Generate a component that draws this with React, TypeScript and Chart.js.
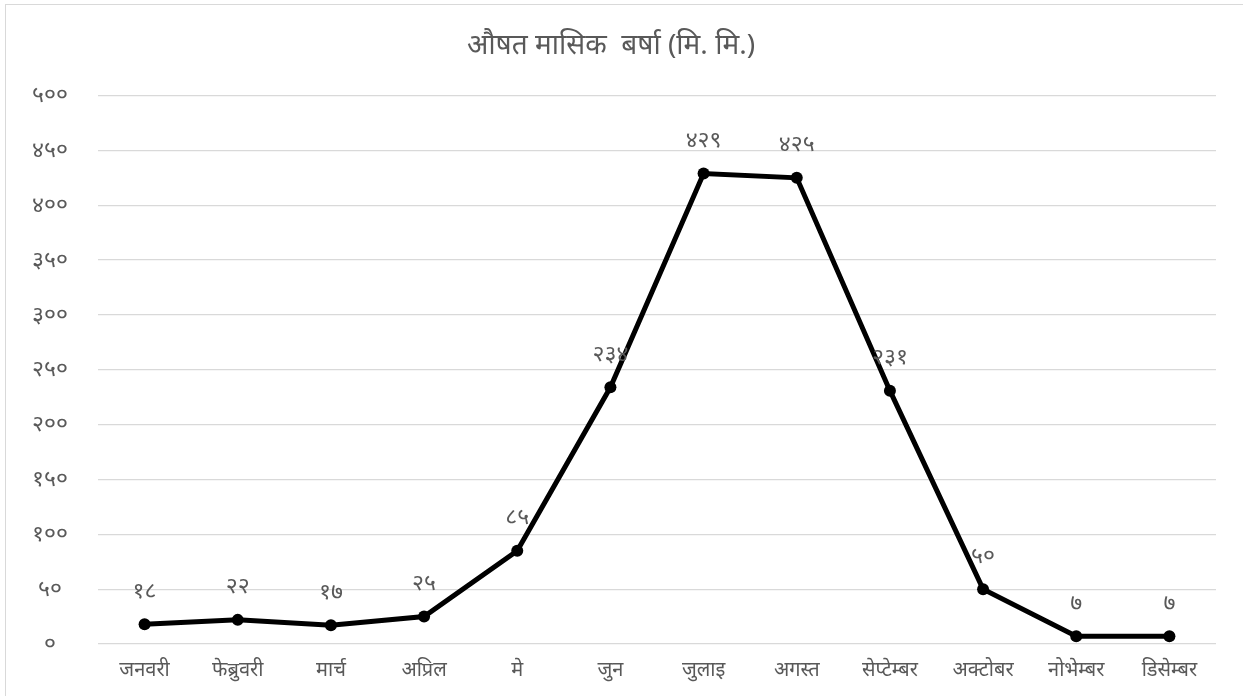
import { useEffect, useRef } from 'react'
import Chart from 'chart.js/auto'

const months = ['जनवरी', 'फेब्रुवरी', 'मार्च', 'अप्रिल', 'मे', 'जुन', 'जुलाइ', 'अगस्त', 'सेप्टेम्बर', 'अक्टोबर', 'नोभेम्बर', 'डिसेम्बर']
const rainfall = [18, 22, 17, 25, 85, 234, 429, 425, 231, 50, 7, 7]
const title = 'औषत मासिक  बर्षा (मि. मि.)'

const DIGITS = '०१२३४५६७८९'
const dev = (n: number | string) => String(n).replace(/\d/g, (d) => DIGITS[Number(d)])

const FONT = '"Noto Sans", sans-serif'
const GREY = '#595959'

const pointLabels = {
  id: 'pointLabels',
  afterDatasetsDraw(chart: Chart) {
    const { ctx } = chart
    const meta = chart.getDatasetMeta(0)
    ctx.save()
    ctx.font = '23px ' + FONT
    ctx.fillStyle = GREY
    ctx.textAlign = 'center'
    ctx.textBaseline = 'middle'
    meta.data.forEach((p, i) => {
      ctx.fillText(dev(rainfall[i]), p.x, p.y - 33)
    })
    ctx.restore()
  },
}

export default function App() {
  const ref = useRef<HTMLCanvasElement>(null)

  useEffect(() => {
    if (!ref.current) return
    const chart = new Chart(ref.current, {
      type: 'line',
      data: {
        labels: months,
        datasets: [
          {
            data: rainfall,
            borderColor: '#000000',
            backgroundColor: '#000000',
            borderWidth: 5,
            pointRadius: 6,
            pointBackgroundColor: '#000000',
            pointBorderWidth: 0,
            tension: 0,
            fill: false,
          },
        ],
      },
      options: {
        responsive: true,
        maintainAspectRatio: false,
        animation: false,
        layout: { padding: { left: 0, right: 28, top: 0, bottom: 9 } },
        plugins: {
          legend: { display: false },
          tooltip: { enabled: false },
          title: {
            display: true,
            text: title,
            color: GREY,
            font: { family: FONT, size: 28, weight: 'normal' },
            padding: { top: 24, bottom: 33 },
          },
        },
        scales: {
          x: {
            offset: true,
            grid: { display: false },
            border: { display: false },
            ticks: { color: GREY, font: { family: FONT, size: 20 }, padding: 6, maxRotation: 0 },
          },
          y: {
            min: 0,
            max: 500,
            afterFit: (s) => { s.width = 92 },
            grid: { color: '#d9d9d9', lineWidth: 1.3, drawTicks: false },
            border: { display: false },
            ticks: {
              stepSize: 50,
              color: GREY,
              crossAlign: 'center',
              padding: 30,
              font: { family: FONT, size: 23 },
              callback: (v) => dev(v),
            },
          },
        },
      },
      plugins: [pointLabels],
    })
    return () => chart.destroy()
  }, [])

  return (
    <div
      style={{
        position: 'fixed',
        left: 5,
        top: 4,
        width: 1238,
        height: 692,
        border: '1.5px solid #d9d9d9',
        background: '#fff',
      }}
    >
      <canvas ref={ref} />
    </div>
  )
}
